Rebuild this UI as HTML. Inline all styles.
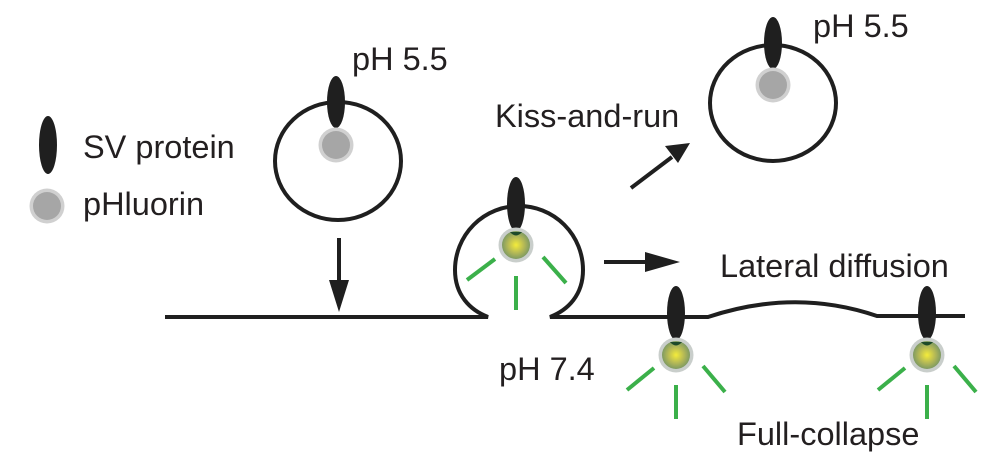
<!DOCTYPE html>
<html><head><meta charset="utf-8"><style>
html,body{margin:0;padding:0;background:#fff;}
svg{display:block;}
text{font-family:"Liberation Sans",Arial,sans-serif;font-size:32.5px;fill:#231f20;}
</style></head><body>
<svg width="991" height="476" viewBox="0 0 991 476" xmlns="http://www.w3.org/2000/svg">
<defs>
<radialGradient id="g" cx="50%" cy="50%" r="50%">
<stop offset="0" stop-color="#f4ec3a"/><stop offset="0.55" stop-color="#b8bb55"/><stop offset="1" stop-color="#7f9a62"/>
</radialGradient>
<g id="ph">
<circle r="17.5" fill="#c9cecb"/><circle r="14" fill="url(#g)"/>
<path d="M-6,-13 Q0,-6 6,-13 Z" fill="#1e4a2a"/>
</g>
<g id="gray"><circle r="17.5" fill="#d0d0d0"/><circle r="14" fill="#a6a6a6"/></g>
</defs>
<g fill="none" stroke="#1f1f1f" stroke-width="4">
<path d="M165,317 L488,317 C470,310 455,295 455,270 A64,64 0 1 1 583,270 C583,295 568,310 550,317 L708,317 Q795,288 877,316 L965,316"/>
<ellipse cx="338" cy="161" rx="63" ry="59"/>
<ellipse cx="773" cy="103" rx="63" ry="58"/>
<line x1="339" y1="238" x2="339" y2="285"/>
<line x1="604" y1="262" x2="650" y2="262"/>
<line x1="631" y1="188" x2="672" y2="157"/>
</g>
<g fill="#1f1f1f">
<polygon points="329,280 349,280 339,312"/>
<polygon points="645,252 645,272 680,262"/>
<polygon points="665,146 678,163 690,143"/>
<ellipse cx="48" cy="145" rx="9" ry="29"/>
<ellipse cx="336" cy="102" rx="9" ry="26"/>
<ellipse cx="773" cy="43" rx="9" ry="26"/>
<ellipse cx="516" cy="204" rx="9" ry="27"/>
<ellipse cx="676" cy="313" rx="9" ry="27"/>
<ellipse cx="927" cy="313" rx="9" ry="27"/>
</g>
<use href="#gray" x="47" y="206"/>
<use href="#gray" x="336" y="145"/>
<use href="#gray" x="773" y="85"/>
<use href="#ph" x="516" y="245"/>
<use href="#ph" x="676" y="355"/>
<use href="#ph" x="927" y="355"/>
<g stroke="#3bb04a" stroke-width="4">
<line x1="467" y1="280" x2="495" y2="259"/><line x1="516" y1="276" x2="516" y2="310"/><line x1="543" y1="257" x2="566" y2="283"/>
<line x1="627" y1="390" x2="654" y2="368"/><line x1="676" y1="385" x2="676" y2="419"/><line x1="703" y1="366" x2="725" y2="392"/>
<line x1="878" y1="390" x2="905" y2="368"/><line x1="927" y1="385" x2="927" y2="419"/><line x1="954" y1="366" x2="976" y2="392"/>
</g>
<text x="83" y="158">SV protein</text>
<text x="83" y="215">pHluorin</text>
<text x="352" y="70">pH 5.5</text>
<text x="813" y="37">pH 5.5</text>
<text x="495" y="127">Kiss-and-run</text>
<text x="720" y="277">Lateral diffusion</text>
<text x="499" y="380">pH 7.4</text>
<text x="737" y="445">Full-collapse</text>
</svg>
</body></html>
